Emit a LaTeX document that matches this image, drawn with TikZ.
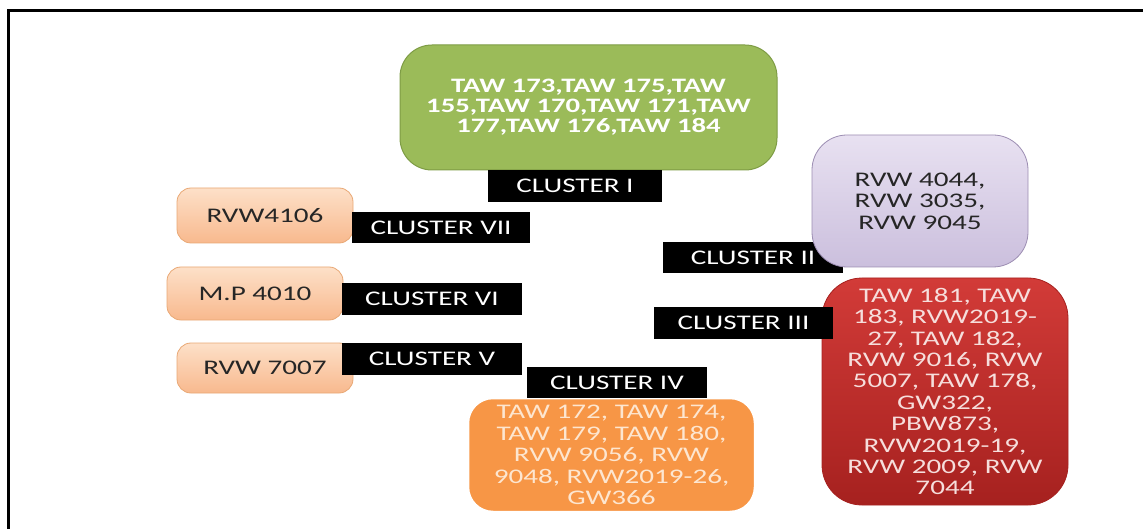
\documentclass[tikz,border=0pt]{standalone}
\usepackage{fontspec}
\setmainfont{Carlito}[FakeStretch=1.4]
\definecolor{grn}{HTML}{9BBB59}
\definecolor{grnd}{HTML}{7E9C45}
\definecolor{peachT}{HTML}{FDE0C8}
\definecolor{peachB}{HTML}{F8B98E}
\definecolor{peachD}{HTML}{E9A875}
\definecolor{purT}{HTML}{E8E1F1}
\definecolor{purB}{HTML}{CBBFDD}
\definecolor{purD}{HTML}{9C8DB2}
\definecolor{redT}{HTML}{D23B38}
\definecolor{redB}{HTML}{A6211F}
\definecolor{org}{HTML}{F79646}
\definecolor{orgtxt}{HTML}{FDE6D0}
\definecolor{redtxt}{HTML}{F6DEDC}
\definecolor{dtxt}{HTML}{262626}
\tikzset{
  txt/.style={font=\fontsize{20.8pt}{21.4pt}\selectfont, align=center, inner sep=0pt},
  lbl/.style={txt, fill=black, text=white, minimum width=180pt, minimum height=31pt},
  peach/.style={txt, draw=peachD, line width=0.8pt, top color=peachT, bottom color=peachB,
    text=dtxt, rounded corners=14pt, minimum width=176pt},
}
\begin{document}
\begin{tikzpicture}[x=1pt,y=-1pt]
\useasboundingbox (0,0) rectangle (1143,529);
\draw[line width=2.7pt] (8.3,529) -- (8.3,10.7) -- (1143,10.7);
% green
\node[txt, font=\fontsize{20.5pt}{20pt}\selectfont\bfseries, text=white, fill=grn, draw=grnd, line width=1pt,
  rounded corners=32pt, minimum width=377pt, minimum height=125pt] (g) at (588.5,107.5)
  {TAW 173,TAW 175,TAW\\155,TAW 170,TAW 171,TAW\\177,TAW 176,TAW 184};
\node[lbl, minimum width=174pt, minimum height=32pt] (c1) at (575,186) {CLUSTER I};
% peach boxes
\node[peach, minimum height=55pt] (p7) at (265,215.5) {RVW4106};
\node[peach, minimum height=53pt] (p6) at (255,293.5) {M.P 4010};
\node[peach, minimum height=50pt] (p5) at (265,368) {RVW 7007};
\node[lbl, minimum width=178pt] (c7) at (441,227.5) {CLUSTER VII};
\node[lbl, minimum height=32pt] (c6) at (432,299) {CLUSTER VI};
\node[lbl, minimum height=32pt] (c5) at (432,359) {CLUSTER V};
% cluster II and purple
\node[lbl] (c2) at (753,257.5) {CLUSTER II};
\node[txt, text=dtxt, draw=purD, line width=0.8pt, top color=purT, bottom color=purB,
  rounded corners=35pt, minimum width=216pt, minimum height=132pt] (pu) at (920,201)
  {RVW 4044,\\RVW 3035,\\RVW 9045};
% red
\node[txt, text=redtxt, top color=redT, bottom color=redB, draw=redB, line width=0.8pt,
  rounded corners=40pt, minimum width=246pt, minimum height=227pt] (r) at (945,391.5)
  {TAW 181, TAW\\183, RVW2019-\\27, TAW 182,\\RVW 9016, RVW\\5007, TAW 178,\\GW322,\\PBW873,\\RVW2019-19,\\RVW 2009, RVW\\7044};
\node[lbl, minimum width=179pt, minimum height=32pt] (c3) at (743.5,323) {CLUSTER III};
% orange
\node[txt, text=orgtxt, fill=org, draw=white, line width=2.5pt,
  rounded corners=25pt, minimum width=287pt, minimum height=114pt] (o) at (611.5,455)
  {TAW 172, TAW 174,\\TAW 179, TAW 180,\\RVW 9056, RVW\\9048, RVW2019-26,\\GW366};
\node[lbl] (c4) at (617,382.5) {CLUSTER IV};
\end{tikzpicture}
\end{document}
